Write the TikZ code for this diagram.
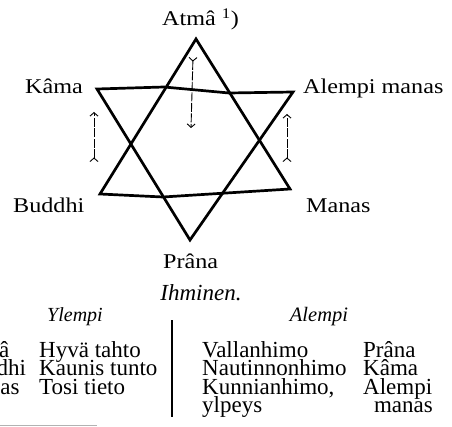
\documentclass[tikz,border=0pt]{standalone}
\usepackage{fontspec}
\setmainfont{Liberation Serif}
\newfontfamily\labelfont[FakeStretch=1.15]{Liberation Serif}
\usetikzlibrary{arrows.meta}

\begin{document}
\begin{tikzpicture}[x=1pt, y=-1pt,
    starline/.style={line width=2.7pt, line join=miter},
    flow/.style={{Straight Barb[reversed, length=3.5pt, width=8pt]}-{Straight Barb[length=3.5pt, width=8pt]}, line width=0.9pt, dash pattern=on 9pt off 1.5pt},
    pointlabel/.style={anchor=base west, inner sep=0pt, font=\labelfont\fontsize{21}{24}\selectfont},
    cell/.style={anchor=base west, inner sep=0pt, font=\fontsize{23}{18.5}\selectfont},
    heading/.style={anchor=base, inner sep=0pt, font=\itshape\fontsize{20}{24}\selectfont}
]
\clip (0,0) rectangle (452,427);

% Star vertices
\coordinate (atmaV) at (196,39);
\coordinate (buddhiV) at (100,194);
\coordinate (manasV) at (290,189);
\coordinate (kamaV) at (97,89);
\coordinate (alempiV) at (293,92);
\coordinate (pranaV) at (190,240);

% Star
\draw[starline] (atmaV) -- (buddhiV) -- (163,197) -- (manasV) -- cycle;
\draw[starline] (kamaV) -- (164,87) -- (229,93) -- (alempiV) -- (pranaV) -- cycle;

% Flow arrows
\coordinate (downTail) at (193,57);
\coordinate (downTip) at (191,128);
\coordinate (leftTail) at (94,162);
\coordinate (leftTip) at (94,112);
\coordinate (rightTail) at (287,162);
\coordinate (rightTip) at (287,114);
\draw[flow] (downTail) -- (downTip);
\draw[flow] (leftTail) -- (leftTip);
\draw[flow] (rightTail) -- (rightTip);

% Point labels
\node[pointlabel] (atma) at (162,26) {Atmâ\ \textsuperscript{1})};
\node[pointlabel] (kama) at (25,94) {Kâma};
\node[pointlabel] (alempi) at (303,94) {Alempi manas};
\node[pointlabel] (buddhi) at (13,213) {Buddhi};
\node[pointlabel] (manas) at (306,213) {Manas};
\node[pointlabel] (prana) at (163,269) {Prâna};

% Table
\node[heading, font=\itshape\fontsize{23}{24}\selectfont] (ihminen) at (201,301) {Ihminen.};
\node[heading] (ylempi) at (75,321) {Ylempi};
\node[heading, font=\itshape\fontsize{20.5}{24}\selectfont] (alempiHead) at (319,321) {Alempi};

\node[cell] (atmaRow) at (-42,357) {Atmâ};
\node[cell] (buddhiRow) at (-42,375.5) {Buddhi};
\node[cell] (manasRow) at (-42,394) {Manas};
\node[cell] (tahto) at (39,357) {Hyvä tahto};
\node[cell] (tunto) at (39,375.5) {Kaunis tunto};
\node[cell] (tieto) at (39,394) {Tosi tieto};

\node[cell] (valta) at (202,357) {Vallanhimo};
\node[cell] (nautinto) at (202,375.5) {Nautinnonhimo};
\node[cell] (kunnia) at (202,394) {Kunnianhimo,};
\node[cell] (ylpeys) at (202,412.5) {ylpeys};
\node[cell] (pranaRow) at (363,357) {Prâna};
\node[cell] (kamaRow) at (363,375.5) {Kâma};
\node[cell] (alempiRow) at (363,394) {Alempi};
\node[cell, anchor=base east] (manasLow) at (433,412.5) {manas};

\draw[line width=1.5pt] (172,320) -- (172,417);
\draw[black!30, line width=1pt] (0,425.5) -- (97,425.5);

\end{tikzpicture}
\end{document}
